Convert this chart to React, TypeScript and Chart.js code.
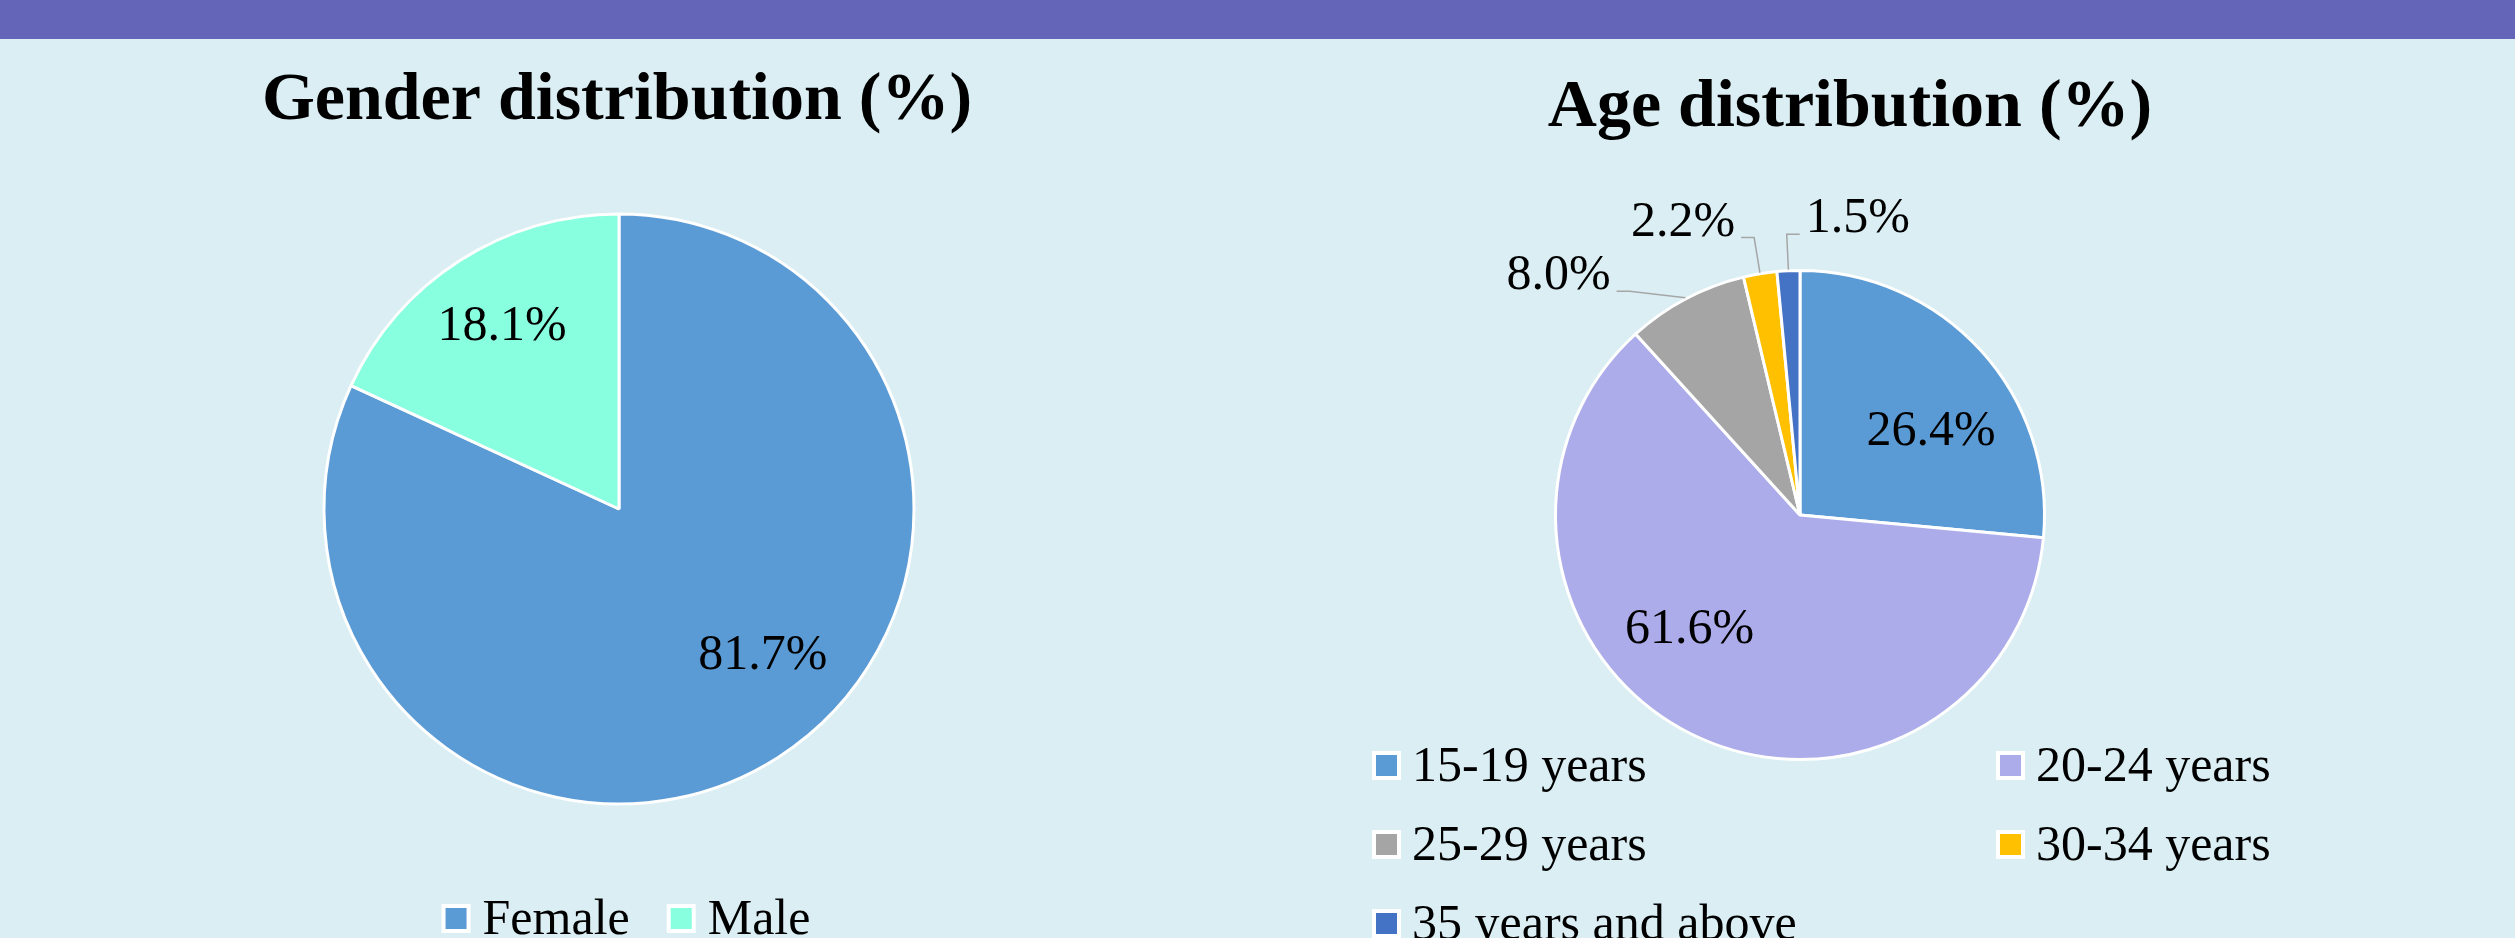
import React, { useEffect, useRef } from 'react';
import { Chart, registerables } from 'chart.js';

Chart.register(...registerables);

// ---------- data ----------
const genderTitle = 'Gender distribution (%)';
const genderLabels = ['Female', 'Male'];
const genderValues = [81.7, 18.1];
const genderColors = ['#5B9BD5', '#88FFDF'];

const ageTitle = 'Age distribution (%)';
const ageLabels = ['15-19 years', '20-24 years', '25-29 years', '30-34 years', '35 years and above'];
const ageValues = [26.4, 61.6, 8.0, 2.2, 1.5];
const ageColors = ['#5B9BD5', '#ADACEA', '#A5A5A5', '#FFC000', '#4472C4'];

// ---------- styles ----------
const SERIF = '"Liberation Serif", "Times New Roman", serif';
const BG = '#DAEEF3';
const BAND = '#6465B8';

Chart.defaults.font.family = SERIF;

// Title drawn at a given anchor (Excel titles are not centred on the plot)
const headingPlugin = {
  id: 'heading',
  afterDraw(chart: any, _args: any, opts: any) {
    if (!opts || !opts.text) return;
    const ctx = chart.ctx;
    ctx.save();
    ctx.font = `bold ${opts.size}px ${SERIF}`;
    ctx.fillStyle = opts.color || '#000';
    ctx.textAlign = 'center';
    ctx.textBaseline = 'alphabetic';
    ctx.fillText(opts.text, opts.x, opts.y);
    ctx.restore();
  },
};

type Box = { l: number; r: number; t: number; b: number };
const overlaps = (a: Box, b: Box) => a.l < b.r && b.l < a.r && a.t < b.b && b.t < a.b;

// Percentage labels: inside for large slices, outside with leader lines for small ones
const pieLabelPlugin = {
  id: 'pieLabels',
  afterDatasetsDraw(chart: any, _args: any, opts: any) {
    const ctx = chart.ctx;
    const meta = chart.getDatasetMeta(0);
    const values = chart.data.datasets[0].data as number[];
    ctx.save();
    ctx.font = `${opts.size}px ${SERIF}`;
    ctx.fillStyle = '#000';
    const outside: any[] = [];
    meta.data.forEach((arc: any, i: number) => {
      const { x, y, startAngle, endAngle, outerRadius } = arc.getProps(
        ['x', 'y', 'startAngle', 'endAngle', 'outerRadius'],
        true
      );
      const mid = (startAngle + endAngle) / 2;
      const span = endAngle - startAngle;
      const ux = Math.cos(mid);
      const uy = Math.sin(mid);
      const v = values[i];
      const text = v.toFixed(1) + '%';
      const w = ctx.measureText(text).width;
      if (v >= opts.outsideBelow) {
        let cx: number;
        let cy: number;
        if (span < Math.PI / 2) {
          // narrow slice: centre the label on the bisector
          cx = x + ux * outerRadius * opts.narrowInside;
          cy = y + uy * outerRadius * opts.narrowInside;
        } else {
          // wide slice: inner corner of the label box on the bisector,
          // outer corner on a circle just inside the rim
          const a = w / 2;
          const b = opts.size * opts.halfHeight;
          const A = Math.sign(ux) * 2 * a;
          const B = Math.sign(uy) * 2 * b;
          const R = outerRadius * opts.rim;
          const p = ux * A + uy * B;
          const t = -p + Math.sqrt(Math.max(p * p - (A * A + B * B) + R * R, 0));
          cx = x + ux * t + A / 2;
          cy = y + uy * t + B / 2;
        }
        ctx.textAlign = 'center';
        ctx.textBaseline = 'middle';
        ctx.fillText(text, cx, cy);
      } else {
        outside.push({ i, x, y, mid, ux, uy, outerRadius, text, w });
      }
    });

    // place outside labels from the last slice back, rotating away on collision
    const placed: Box[] = [];
    const step = (0.5 * Math.PI) / 180;
    for (let k = outside.length - 1; k >= 0; k--) {
      const o = outside[k];
      const side = o.ux < -opts.verticalBand ? -1 : 1;
      const er = o.outerRadius * opts.elbow;
      const hh = opts.size * opts.boxHalf;
      let theta = o.mid;
      let ex = 0;
      let ey = 0;
      let box: Box = { l: 0, r: 0, t: 0, b: 0 };
      for (let n = 0; n < 180; n++) {
        ex = o.x + Math.cos(theta) * er;
        ey = o.y + Math.sin(theta) * er;
        const ty = ey - opts.lift;
        box =
          side < 0
            ? { l: ex - opts.arm - opts.gap - o.w, r: ex, t: ty - hh, b: ty + hh }
            : { l: ex, r: ex + opts.arm + opts.gap + o.w, t: ty - hh, b: ty + hh };
        if (!placed.some((p) => overlaps(p, box))) break;
        theta -= step;
      }
      placed.push(box);
      ctx.strokeStyle = opts.lineColor;
      ctx.lineWidth = opts.lineWidth;
      ctx.beginPath();
      ctx.moveTo(o.x + o.ux * (o.outerRadius + 1), o.y + o.uy * (o.outerRadius + 1));
      ctx.lineTo(ex, ey);
      ctx.lineTo(ex + side * opts.arm, ey);
      ctx.stroke();
      ctx.textAlign = side < 0 ? 'right' : 'left';
      ctx.textBaseline = 'middle';
      ctx.fillText(o.text, ex + side * (opts.arm + opts.gap), ey - opts.lift);
    }
    ctx.restore();
  },
};

// Legend with square white-bordered markers, either a centred row or a grid
const legendGridPlugin = {
  id: 'legendGrid',
  afterDraw(chart: any, _args: any, opts: any) {
    const ctx = chart.ctx;
    const labels = chart.data.labels as string[];
    const colors = chart.data.datasets[0].backgroundColor as string[];
    ctx.save();
    ctx.font = `${opts.size}px ${SERIF}`;
    const widths = labels.map((l) => opts.box + opts.gap + ctx.measureText(l).width);
    let positions: { x: number; y: number }[];
    if (opts.columns) {
      positions = labels.map((_, i) => ({
        x: opts.left + (i % opts.columns) * opts.colWidth,
        y: opts.top + Math.floor(i / opts.columns) * opts.rowHeight,
      }));
    } else {
      const total = widths.reduce((a, b) => a + b, 0) + opts.itemGap * (labels.length - 1);
      let cx = opts.centerX - total / 2;
      positions = labels.map((_, i) => {
        const p = { x: cx, y: opts.top };
        cx += widths[i] + opts.itemGap;
        return p;
      });
    }
    labels.forEach((label, i) => {
      const { x, y } = positions[i];
      ctx.fillStyle = '#FFFFFF';
      ctx.fillRect(x, y, opts.box, opts.box);
      ctx.fillStyle = colors[i];
      ctx.fillRect(x + opts.border, y + opts.border, opts.box - 2 * opts.border, opts.box - 2 * opts.border);
      ctx.fillStyle = '#000';
      ctx.textAlign = 'left';
      ctx.textBaseline = 'alphabetic';
      ctx.fillText(label, x + opts.box + opts.gap, y + opts.box + 1);
    });
    ctx.restore();
  },
};

const labelOpts = {
  size: 50,
  halfHeight: 0.454,
  rim: 0.91,
  narrowInside: 0.735,
  outsideBelow: 10,
  elbow: 1.15,
  arm: 13,
  gap: 6,
  lift: 15,
  boxHalf: 0.55,
  verticalBand: 0.1,
  lineColor: '#A6A6A6',
  lineWidth: 1.5,
};

function makeConfig(
  labels: string[],
  values: number[],
  colors: string[],
  radius: number,
  padding: any,
  heading: any,
  legend: any
): any {
  return {
    type: 'pie',
    data: {
      labels,
      datasets: [
        {
          data: values,
          backgroundColor: colors,
          borderColor: '#FFFFFF',
          borderWidth: 3,
          hoverOffset: 0,
        },
      ],
    },
    options: {
      animation: false,
      responsive: false,
      maintainAspectRatio: false,
      events: [],
      radius,
      layout: { padding },
      plugins: {
        legend: { display: false },
        tooltip: { enabled: false },
        title: { display: false },
        heading,
        pieLabels: labelOpts,
        legendGrid: legend,
      },
    },
    plugins: [headingPlugin, pieLabelPlugin, legendGridPlugin],
  };
}

function PieCanvas({ config, left, width }: { config: any; left: number; width: number }) {
  const ref = useRef<HTMLCanvasElement | null>(null);
  useEffect(() => {
    if (!ref.current) return;
    const chart = new Chart(ref.current, config);
    return () => chart.destroy();
  }, [config]);
  return (
    <canvas
      ref={ref}
      width={width}
      height={938}
      style={{ position: 'absolute', left, top: 0, width, height: 938 }}
    />
  );
}

const genderConfig = makeConfig(
  genderLabels,
  genderValues,
  genderColors,
  295,
  { left: 0, right: 12, top: 180, bottom: 100 },
  { text: genderTitle, size: 68, x: 617, y: 119 },
  { size: 50, box: 29, border: 4, gap: 12, itemGap: 37, centerX: 626, top: 904 }
);

const ageConfig = makeConfig(
  ageLabels,
  ageValues,
  ageColors,
  244.5,
  { left: 0, right: 165, top: 192, bottom: 100 },
  { text: ageTitle, size: 68, x: 600, y: 126 },
  { size: 50, box: 29, border: 4, gap: 11, columns: 2, colWidth: 624, rowHeight: 79, left: 122, top: 751 }
);

export default function App() {
  return (
    <div
      style={{
        position: 'fixed',
        left: 0,
        top: 0,
        width: 2515,
        height: 938,
        background: BG,
        overflow: 'hidden',
      }}
    >
      <div style={{ position: 'absolute', left: 0, top: 0, width: 2515, height: 39, background: BAND }} />
      <PieCanvas config={genderConfig} left={0} width={1250} />
      <PieCanvas config={ageConfig} left={1250} width={1265} />
    </div>
  );
}
